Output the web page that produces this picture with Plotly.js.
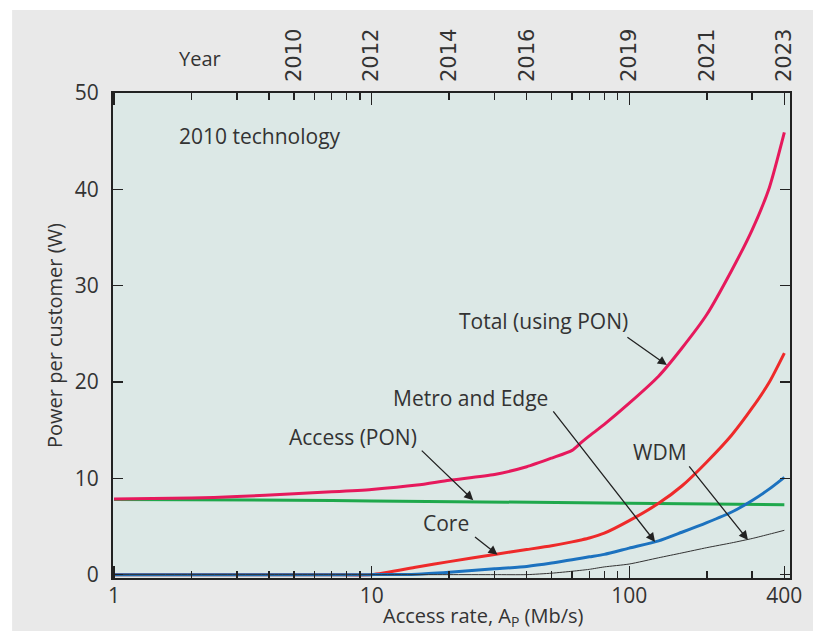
<!DOCTYPE html>
<html>
<head>
<meta charset="utf-8">
<script src="https://cdn.plot.ly/plotly-3.0.1.min.js"></script>
<style>html,body{margin:0;padding:0;background:#fff;}#chart{width:813px;height:631px;}</style>
</head>
<body>
<div id="chart"></div>
<script>
// Access rate (Mb/s) sample points
const accessRate = [1,2,3,5,7,10,15,20,30,40,50,60,65,70,80,100,130,160,200,250,300,350,400];
// Power per customer (W)
const totalPON  = [7.85,7.95,8.1,8.4,8.6,8.85,9.3,9.8,10.4,11.2,12.1,12.9,13.7,14.4,15.6,17.8,20.6,23.5,27.0,31.6,35.8,40.2,45.9];
const accessPON = [7.8,7.78,7.76,7.72,7.7,7.65,7.62,7.6,7.56,7.52,7.5,7.48,7.47,7.46,7.44,7.4,7.37,7.35,7.32,7.3,7.28,7.26,7.25];
const core      = [0,0,0,0,0,0,0.8,1.35,2.1,2.6,3.0,3.4,3.6,3.8,4.3,5.6,7.4,9.2,11.7,14.5,17.3,20.0,23.0];
const metroEdge = [0,0,0,0,0,0,0.05,0.25,0.6,0.85,1.2,1.55,1.7,1.85,2.1,2.75,3.5,4.4,5.4,6.5,7.7,8.9,10.1];
const wdm       = [0,0,0,0,0,0,0,0,0,0,0.15,0.35,0.45,0.55,0.8,1.1,1.75,2.25,2.8,3.3,3.75,4.2,4.6];

// Top axis: year vs access rate
const yearRate   = [5,10,20,40,100,200,400];
const yearLabels = ['2010','2012','2014','2016','2019','2021','2023'];

const xTickVals = [1,10,100,400];
const xTickText = ['1','10','100','400'];
const xMinorVals = [2,3,4,5,6,7,8,9,20,30,40,50,60,70,80,90,200,300];
const yTickVals = [0,10,20,30,40,50];

const FONT = 'Open Sans, Noto Sans, sans-serif';
const TXT = '#333333';

const traces = [
  {x: accessRate, y: accessPON, mode:'lines', line:{color:'#1fa84c', width:3}, name:'Access (PON)'},
  {x: accessRate, y: totalPON, mode:'lines', line:{color:'#e6195c', width:3, shape:'spline', smoothing:0.6}, name:'Total (using PON)'},
  {x: accessRate, y: core, mode:'lines', line:{color:'#ee2a2a', width:3, shape:'spline', smoothing:0.6}, name:'Core'},
  {x: accessRate, y: metroEdge, mode:'lines', line:{color:'#1c72bf', width:3, shape:'spline', smoothing:0.6}, name:'Metro and Edge'},
  {x: accessRate, y: wdm, mode:'lines', line:{color:'#333333', width:1, shape:'spline', smoothing:0.6}, name:'WDM'},
  {x: yearRate, y: yearRate.map(()=>null), xaxis:'x2', mode:'none', hoverinfo:'skip', showlegend:false}
];

const L = Math.log10;
function label(text, xv, yv){
  return {text:text, x:L(xv), y:yv, xref:'x', yref:'y', showarrow:false,
          font:{family:FONT, size:21, color:TXT}};
}
function arrow(xv, yv, ax, ay){
  return {text:'', x:L(xv), y:yv, xref:'x', yref:'y', showarrow:true, ax:ax, ay:ay,
          arrowhead:2, arrowsize:1.4, arrowwidth:1.3, arrowcolor:'#222'};
}

const layout = {
  width:813, height:631,
  margin:{l:113, r:23, t:93, b:53},
  paper_bgcolor:'#ffffff',
  plot_bgcolor:'rgba(0,0,0,0)',
  showlegend:false,
  font:{family:FONT, size:21, color:TXT},
  shapes:[
    {type:'rect', xref:'paper', yref:'paper', x0:-0.149, x1:1.05, y0:-0.12, y1:1.171,
     fillcolor:'#e9e9e9', line:{width:0}, layer:'below'},
    {type:'rect', xref:'paper', yref:'paper', x0:0, x1:1, y0:0, y1:1,
     fillcolor:'#dce8e6', line:{width:0}, layer:'below'}
  ],
  xaxis:{
    type:'log', range:[-0.004, 2.624],
    tickmode:'array', tickvals:xTickVals, ticktext:xTickText,
    ticks:'inside', ticklen:12, tickwidth:1.5, tickcolor:'#222',
    minor:{tickmode:'array', tickvals:xMinorVals, ticks:'inside', ticklen:7, tickwidth:1.5, tickcolor:'#222', showgrid:false},
    showline:true, linecolor:'#222', linewidth:2, mirror:'ticks',
    showgrid:false, zeroline:false, ticklabelstandoff:-2,
    tickfont:{family:FONT, size:21, color:TXT}
  },
  xaxis2:{
    type:'log', range:[-0.004, 2.624], overlaying:'x', side:'top', anchor:'y',
    tickmode:'array', tickvals:yearRate, ticktext:yearLabels, tickangle:-90,
    ticks:'', showline:false, showgrid:false, zeroline:false, ticklabelstandoff:10,
    tickfont:{family:'DejaVu Sans, sans-serif', size:21, color:TXT}
  },
  yaxis:{
    range:[-0.35, 50],
    tickmode:'array', tickvals:yTickVals,
    ticks:'inside', ticklen:10, tickwidth:1.5, tickcolor:'#222',
    showline:true, linecolor:'#222', linewidth:2, mirror:'ticks',
    showgrid:false, zeroline:false, ticklabelstandoff:8,
    tickfont:{family:FONT, size:21, color:TXT},
    title:{text:'Power per customer (W)', font:{family:FONT, size:20, color:TXT}}
  },
  annotations:[
    label('2010 technology', 3.7, 45.5),
    label('Total (using PON)', 46.5, 26.3),
    label('Metro and Edge', 24.2, 18.35),
    label('Access (PON)', 8.45, 14.33),
    label('Core', 19.5, 5.36),
    label('WDM', 132, 12.78),
    {text:'Year', xref:'paper', yref:'paper', x:0.1285, y:1.072, xanchor:'center', yanchor:'middle', showarrow:false,
     font:{family:FONT, size:20, color:TXT}},
    {text:'Access rate, A<sub>P</sub> (Mb/s)', xref:'paper', yref:'paper', x:0.548, y:-0.08,
     xanchor:'center', yanchor:'middle', showarrow:false, font:{family:FONT, size:20, color:TXT}},
    arrow(140, 21.75, -41, -29),
    arrow(126, 3.4, -103, -132),
    arrow(24.8, 7.73, -53, -51),
    arrow(30.8, 2.06, -24, -19),
    arrow(289, 3.6, -60, -75)
  ]
};

Plotly.newPlot('chart', traces, layout, {staticPlot:true, displayModeBar:false});
</script>
</body>
</html>
